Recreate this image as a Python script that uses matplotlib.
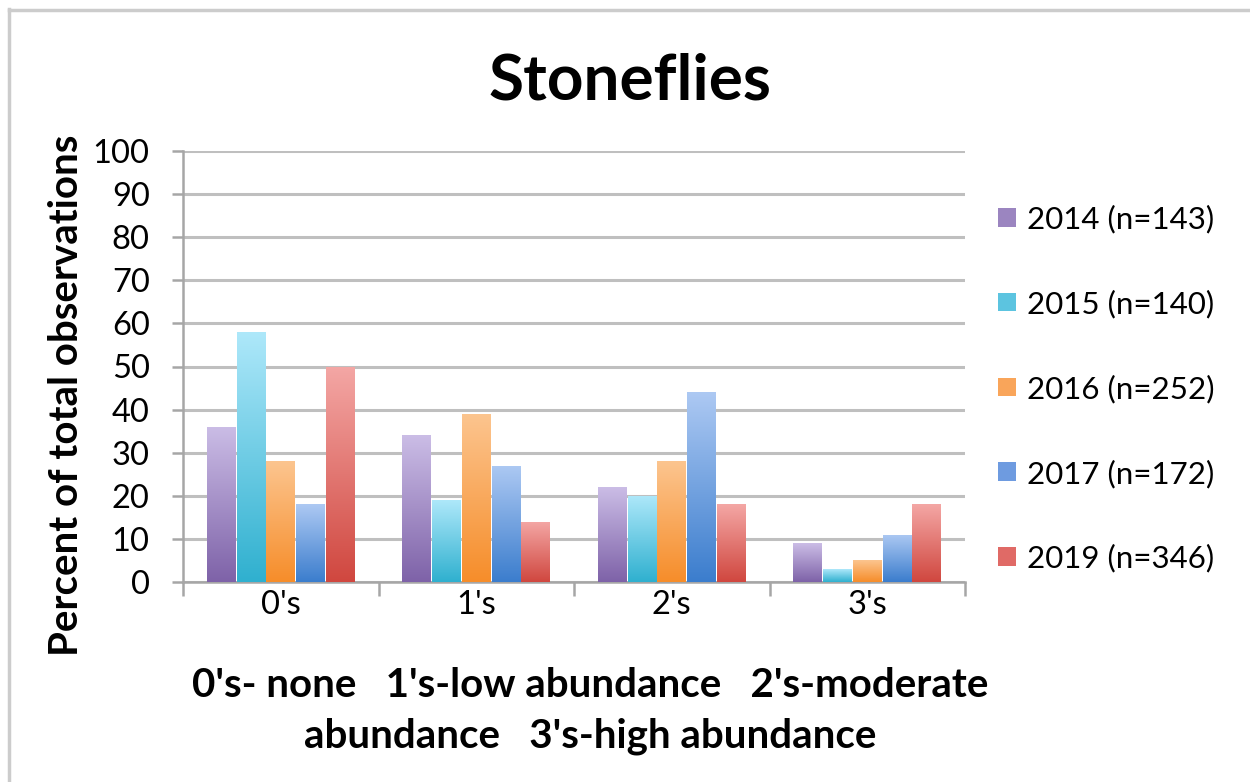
import numpy as np
import matplotlib.pyplot as plt
from matplotlib.lines import Line2D
from matplotlib.patches import Patch
from matplotlib.colors import LinearSegmentedColormap

plt.rcParams['font.family'] = ['Lato', 'DejaVu Sans']

categories = ["0's", "1's", "2's", "3's"]
years = ['2014 (n=143)', '2015 (n=140)', '2016 (n=252)', '2017 (n=172)', '2019 (n=346)']
pct_2014 = [36, 34, 22, 9]
pct_2015 = [58, 19, 20, 3]
pct_2016 = [28, 39, 28, 5]
pct_2017 = [18, 27, 44, 11]
pct_2019 = [50, 14, 18, 18]
series = [pct_2014, pct_2015, pct_2016, pct_2017, pct_2019]

# (top, bottom) colours for the gradient fills
shades = [('#cbbde6', '#7e62a8'),
          ('#aee8fa', '#2fb0cf'),
          ('#fcc58f', '#f68d2a'),
          ('#adc9f3', '#3b7dcd'),
          ('#f4a7a5', '#d0473f')]
legend_cols = ['#9b85c0', '#5cc4e0', '#f9a55a', '#6e9be0', '#e06a66']

fig = plt.figure(figsize=(12.5, 7.82), dpi=100)
ax = fig.add_axes([183 / 1250, 1 - 582 / 782, (965 - 183) / 1250, (582 - 151) / 782])

x = np.arange(len(categories))
step = 0.152
width = 0.147
grad = np.linspace(1, 0, 256).reshape(-1, 1)
for i, (vals, (top, bot)) in enumerate(zip(series, shades)):
    cmap = LinearSegmentedColormap.from_list('g%d' % i, [bot, top])
    bars = ax.bar(x + (i - 2) * step, vals, width, color='none', zorder=3)
    for b in bars:
        x0 = b.get_x()
        h = b.get_height()
        im = ax.imshow(grad, cmap=cmap, extent=(x0, x0 + b.get_width(), 0, h),
                       aspect='auto', origin='upper', zorder=3, vmin=0, vmax=1)
        im.set_clip_path(b)

ax.set_xlim(-0.5, 3.5)
ax.set_ylim(0, 100)
ax.set_yticks(range(0, 101, 10))
ax.yaxis.grid(True, color='#bfbfbf', linewidth=2.2, zorder=0)
ax.set_axisbelow(True)

for s in ['top', 'right']:
    ax.spines[s].set_visible(False)
for s in ['left', 'bottom']:
    ax.spines[s].set_color('#a6a6a6')
    ax.spines[s].set_linewidth(1.8)

ax.set_xticks(x)
ax.set_xticklabels(categories)
ax.set_xticks(np.arange(-0.5, 4, 1), minor=True)
ax.tick_params(axis='x', which='major', length=0, pad=6, labelsize=23.5)
ax.tick_params(axis='x', which='minor', length=10, width=1.8, color='#a6a6a6')
ax.tick_params(axis='y', length=8, width=1.8, color='#a6a6a6', pad=16, labelsize=23.5)

ax.set_ylabel('Percent of total observations', fontsize=29, fontweight='bold')
ax.yaxis.set_label_coords(-0.125, 0.432)

fig.text(590 / 1250, 1 - 711 / 782,
         "0's- none   1's-low abundance   2's-moderate\nabundance   3's-high abundance",
         ha='center', va='center', fontsize=29, fontweight='bold', linespacing=1.45)

fig.text(0.504, 0.897, 'Stoneflies', ha='center', va='center', fontsize=46, fontweight='bold')

handles = [Patch(facecolor=c, edgecolor='none') for c in legend_cols]
fig.legend(handles, years, loc='upper left', bbox_to_anchor=(986 / 1250, 1 - 192 / 782),
           frameon=False, fontsize=22.5, handlelength=0.55, handleheight=0.55,
           handletextpad=0.35, labelspacing=1.8, borderaxespad=0)

# light frame on the top and left edges
fig.add_artist(Line2D([9 / 1250, 9 / 1250], [0, 1 - 9 / 782], color='#cccccc', linewidth=2.5,
                      transform=fig.transFigure))
fig.add_artist(Line2D([9 / 1250, 1], [1 - 10 / 782, 1 - 10 / 782], color='#cccccc', linewidth=2.5,
                      transform=fig.transFigure))

fig.savefig('out.png', dpi=100)
